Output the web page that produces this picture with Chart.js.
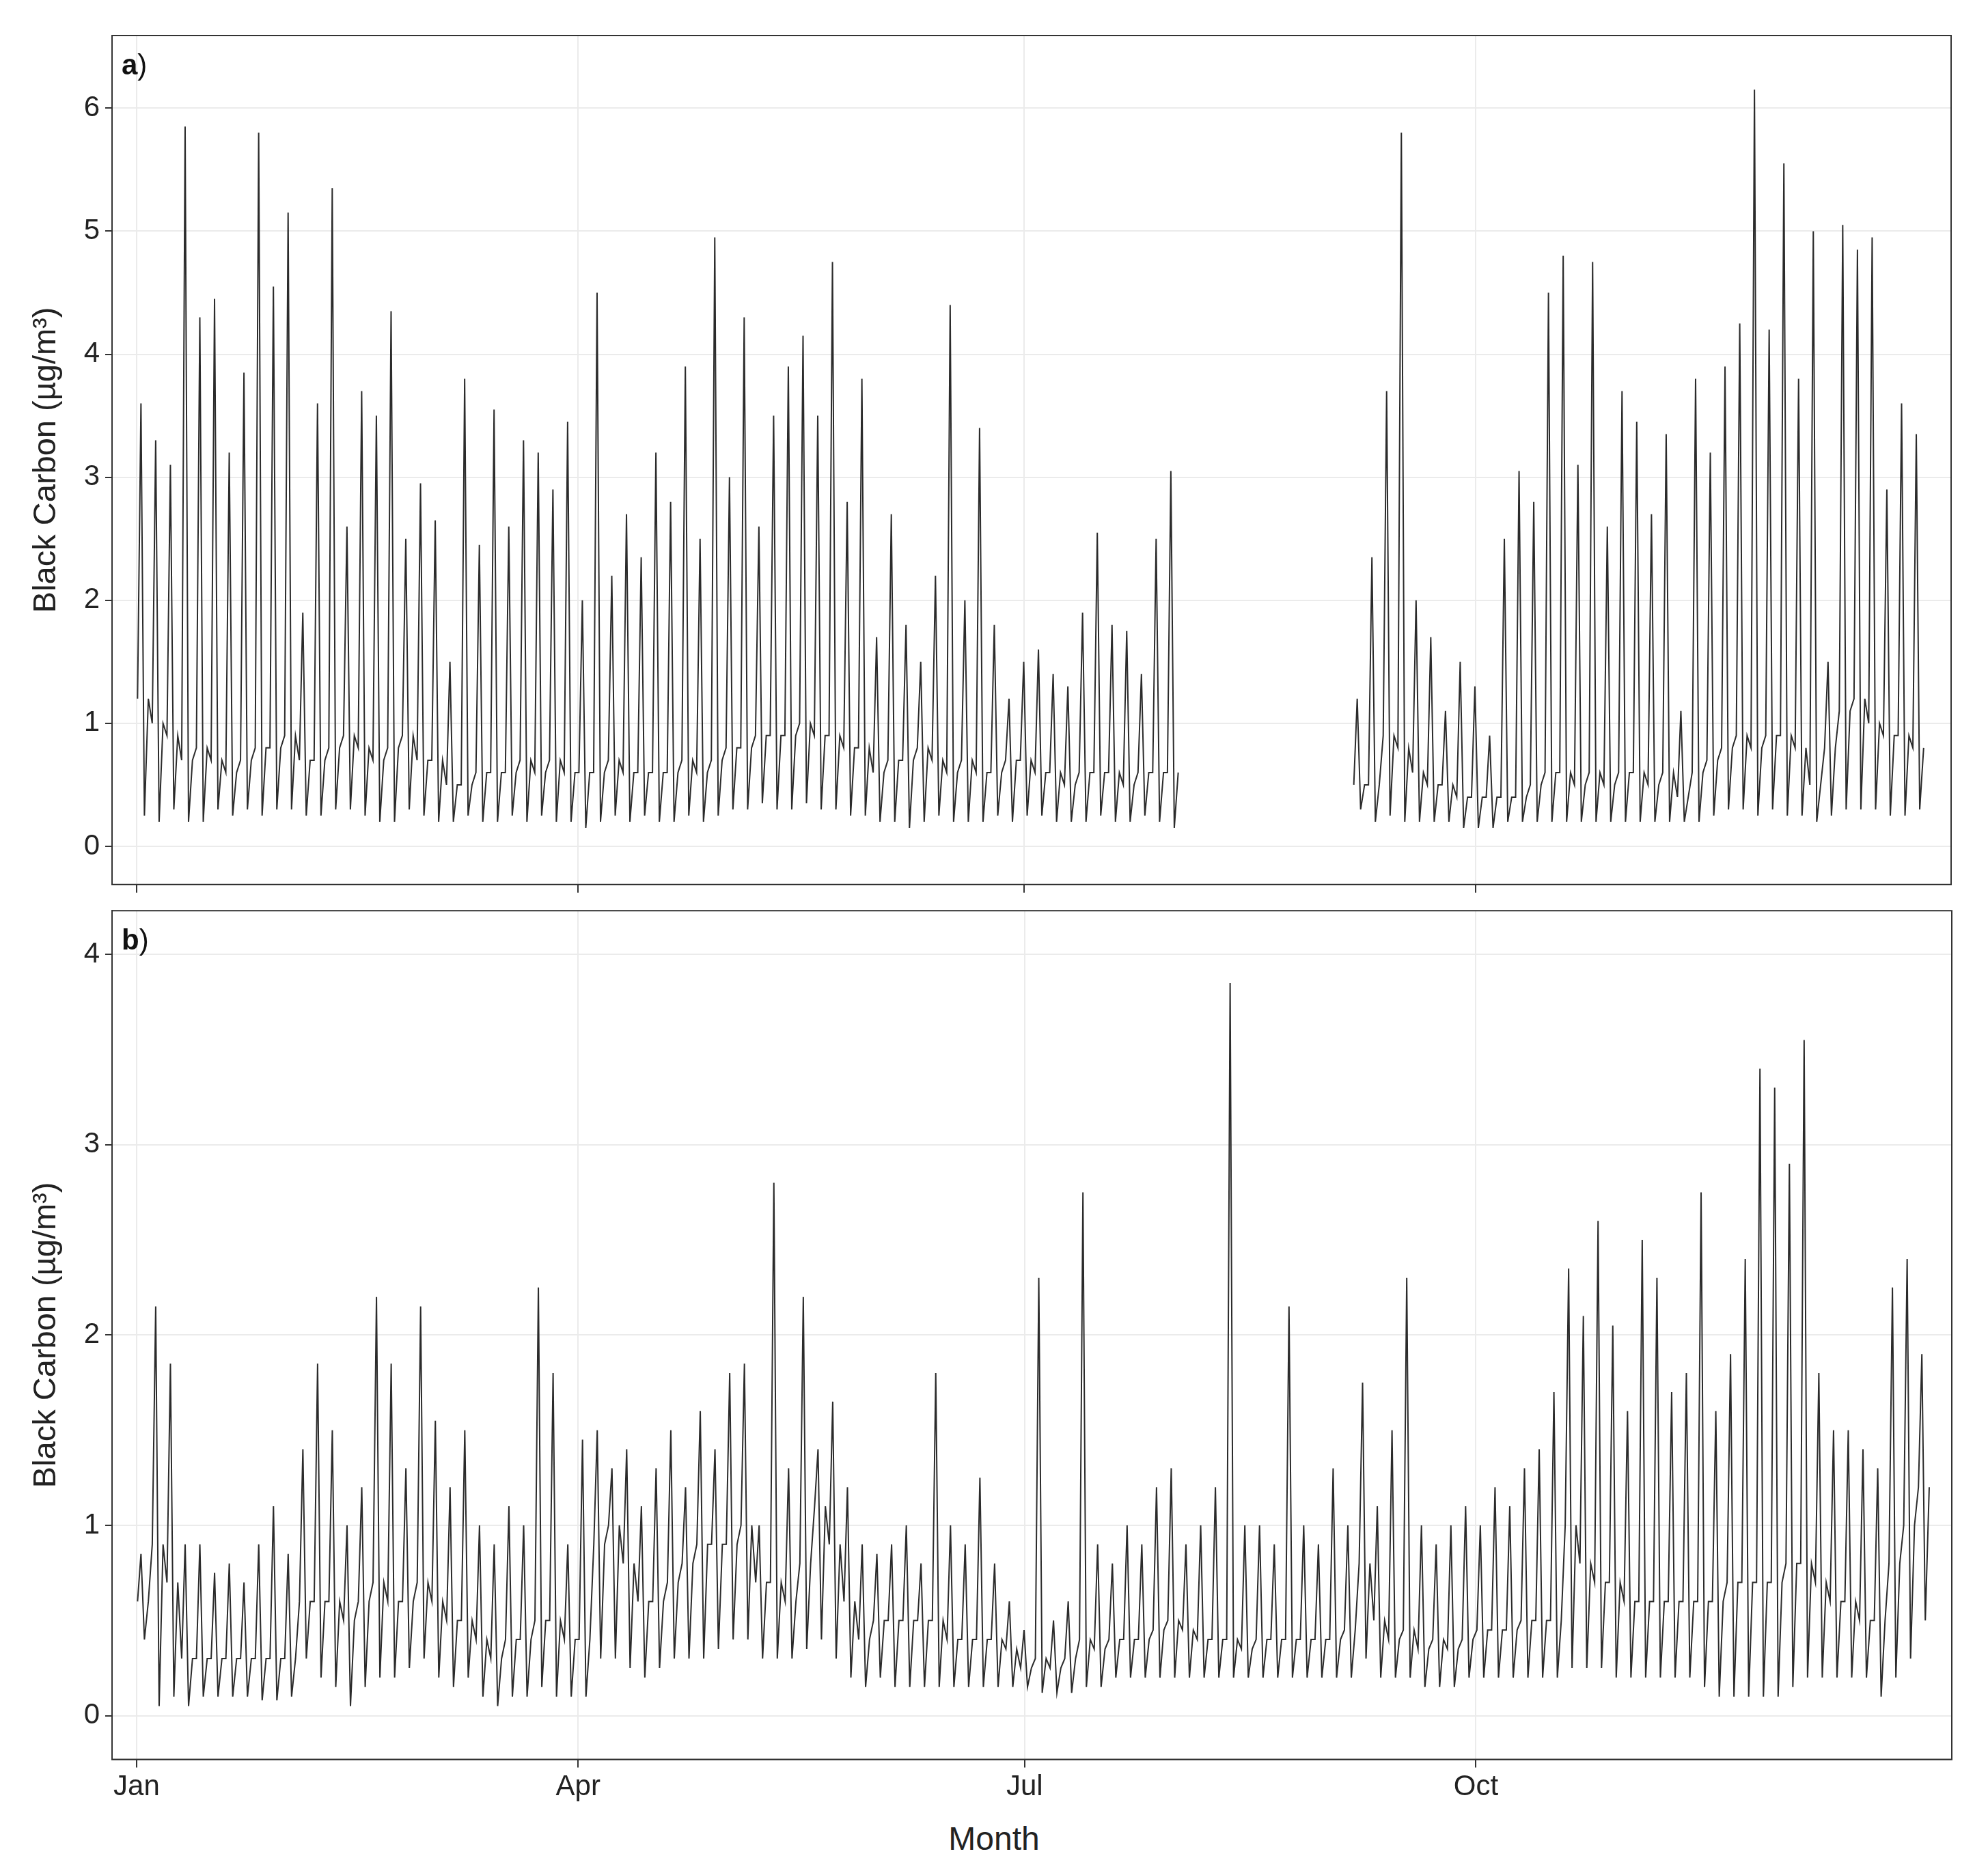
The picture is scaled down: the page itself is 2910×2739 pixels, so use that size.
<!DOCTYPE html>
<html><head><meta charset="utf-8">
<script src="https://cdn.jsdelivr.net/npm/chart.js@4"></script>
<style>
body{margin:0;background:#fff;width:2910px;height:2739px;position:relative;overflow:hidden;font-family:"Liberation Sans",Arial,sans-serif}
canvas{position:absolute;left:0}
#month{position:absolute;top:2664px;left:0;width:2910px;text-align:center;font-size:48px;color:#222}
</style></head><body>
<canvas id="ca" style="top:0"></canvas>
<canvas id="cb" style="top:1300px"></canvas>
<div id="month">Month</div>
<script>
// month ticks (day of year)
const monthDays = [0, 90, 181, 273];
const monthNames = ['Jan', 'Apr', 'Jul', 'Oct'];

// panel a: 3-day buckets, two periods with a gap between them
const startA1 = 0, startA2 = 248;
const peakA1 = [3.6,3.3,3.1,5.85,4.3,4.45,3.2,3.85,5.8,4.55,5.15,1.9,3.6,5.35,2.6,3.7,3.5,4.35,2.5,2.95,2.65,1.5,3.8,2.45,3.55,2.6,3.3,3.2,2.9,3.45,2.0,4.5,2.2,2.7,2.35,3.2,2.8,3.9,2.5,4.95,3.0,4.3,2.6,3.5,3.9,4.15,3.5,4.75,2.8,3.8,1.7,2.7,1.8,1.5,2.2,4.4,2.0,3.4,1.8,1.2,1.5,1.6,1.4,1.3,1.9,2.55,1.8,1.75,1.4,2.5,3.05];
const midA1 = [1.2,1.0,0.9,0.7,0.8,0.7,0.6,0.7,0.8,0.8,0.9,0.7,0.7,0.8,0.9,0.8,0.7,0.8,0.9,0.7,0.7,0.5,0.5,0.6,0.6,0.6,0.7,0.6,0.7,0.6,0.6,0.6,0.7,0.6,0.6,0.6,0.6,0.7,0.6,0.7,0.8,0.8,0.9,0.9,0.9,1.0,0.9,0.9,0.8,0.8,0.6,0.7,0.7,0.8,0.7,0.6,0.7,0.6,0.6,0.7,0.7,0.6,0.6,0.5,0.6,0.6,0.6,0.5,0.6,0.6,0.6];
const lowA1 = [0.25,0.2,0.3,0.2,0.2,0.3,0.25,0.3,0.25,0.3,0.3,0.25,0.25,0.3,0.3,0.25,0.2,0.2,0.3,0.25,0.2,0.2,0.25,0.2,0.2,0.25,0.2,0.25,0.2,0.2,0.15,0.2,0.25,0.2,0.25,0.2,0.2,0.25,0.2,0.25,0.3,0.3,0.35,0.3,0.3,0.35,0.3,0.3,0.25,0.25,0.2,0.2,0.15,0.2,0.25,0.2,0.2,0.2,0.25,0.2,0.25,0.25,0.2,0.2,0.2,0.25,0.2,0.2,0.25,0.2,0.15];
const peakA2 = [1.2,2.35,3.7,5.8,2.0,1.7,1.1,1.5,1.3,0.9,2.5,3.05,2.8,4.5,4.8,3.1,4.75,2.6,3.7,3.45,2.7,3.35,1.1,3.8,3.2,3.9,4.25,6.15,4.2,5.55,3.8,5.0,1.5,5.05,4.85,4.95,2.9,3.6,3.35];
const midA2 = [0.5,0.5,0.9,0.8,0.6,0.5,0.5,0.4,0.4,0.4,0.4,0.4,0.5,0.6,0.6,0.5,0.6,0.5,0.6,0.6,0.5,0.6,0.4,0.6,0.7,0.8,0.9,0.8,0.9,0.9,0.8,0.5,0.8,1.1,1.2,1.0,0.9,0.9,0.8];
const lowA2 = [0.3,0.2,0.25,0.2,0.2,0.2,0.2,0.15,0.15,0.15,0.2,0.2,0.2,0.2,0.2,0.2,0.2,0.2,0.2,0.2,0.2,0.2,0.2,0.2,0.25,0.3,0.3,0.25,0.3,0.25,0.25,0.2,0.25,0.3,0.3,0.3,0.25,0.25,0.3];

// panel b: 3-day buckets over the whole year
const peakB = [0.85,2.15,1.85,0.9,0.9,0.75,0.8,0.7,0.9,1.1,0.85,1.4,1.85,1.5,1.0,1.2,2.2,1.85,1.3,2.15,1.55,1.2,1.5,1.0,0.9,1.1,1.0,2.25,1.8,0.9,1.45,1.5,1.3,1.4,1.1,1.3,1.5,1.2,1.6,1.4,1.8,1.85,1.0,2.8,1.3,2.2,1.4,1.65,1.2,0.9,0.85,0.9,1.0,0.8,1.8,1.0,0.9,1.25,0.8,0.6,0.45,2.3,0.5,0.6,2.75,0.9,0.8,1.0,0.9,1.2,1.3,0.9,1.0,1.2,3.85,1.0,1.0,0.9,2.15,1.0,0.9,1.3,1.0,1.75,1.1,1.5,2.3,1.0,0.9,1.0,1.1,1.0,1.2,1.1,1.3,1.4,1.7,2.35,2.1,2.6,2.05,1.6,2.5,2.3,1.7,1.8,2.75,1.6,1.9,2.4,3.4,3.3,2.9,3.55,1.8,1.5,1.5,1.4,1.3,2.25,2.4,1.9];
const midB = [0.6,0.9,0.7,0.3,0.3,0.3,0.3,0.3,0.3,0.3,0.3,0.6,0.6,0.6,0.5,0.6,0.7,0.6,0.6,0.7,0.6,0.5,0.5,0.4,0.3,0.4,0.4,0.5,0.5,0.4,0.4,0.9,1.0,0.8,0.6,0.6,0.7,0.8,0.9,0.9,0.9,1.0,0.7,0.7,0.6,0.8,1.1,0.9,0.6,0.4,0.5,0.5,0.5,0.5,0.5,0.4,0.4,0.4,0.4,0.35,0.25,0.3,0.25,0.3,0.4,0.35,0.4,0.4,0.4,0.45,0.5,0.45,0.4,0.4,0.4,0.35,0.4,0.4,0.4,0.4,0.4,0.4,0.45,0.8,0.5,0.4,0.45,0.35,0.4,0.35,0.4,0.45,0.45,0.45,0.5,0.5,0.5,1.0,0.8,0.7,0.7,0.6,0.6,0.6,0.6,0.6,0.6,0.6,0.7,0.7,0.7,0.7,0.8,0.8,0.7,0.6,0.6,0.5,0.5,0.8,1.0,1.2];
const lowB = [0.4,0.05,0.1,0.05,0.1,0.1,0.1,0.1,0.08,0.08,0.1,0.3,0.2,0.15,0.05,0.15,0.2,0.2,0.25,0.3,0.2,0.15,0.2,0.1,0.05,0.1,0.1,0.15,0.1,0.1,0.1,0.3,0.3,0.25,0.2,0.25,0.3,0.3,0.3,0.35,0.4,0.4,0.3,0.3,0.3,0.35,0.4,0.3,0.2,0.15,0.2,0.15,0.15,0.15,0.15,0.15,0.15,0.15,0.15,0.15,0.15,0.12,0.12,0.12,0.15,0.15,0.2,0.2,0.2,0.2,0.2,0.2,0.2,0.2,0.2,0.2,0.2,0.2,0.2,0.2,0.2,0.2,0.2,0.3,0.2,0.2,0.2,0.15,0.15,0.15,0.2,0.2,0.2,0.2,0.2,0.2,0.2,0.25,0.25,0.25,0.2,0.2,0.2,0.2,0.2,0.2,0.15,0.1,0.1,0.1,0.1,0.1,0.15,0.2,0.2,0.2,0.2,0.2,0.1,0.2,0.3,0.5];

function buildPoints(start, peak, mid, low) {
    const n = Math.min(peak.length, mid.length, low.length);
    const pts = [];
    for (let i = 0; i < n; i++) {
        const d = start + i * 3;
        pts.push({x: d + 0.2, y: mid[i]}, {x: d + 0.9, y: peak[i]},
                 {x: d + 1.6, y: low[i]}, {x: d + 2.4, y: mid[i]});
    }
    return pts;
}

const ptsA = buildPoints(startA1, peakA1, midA1, lowA1)
    .concat([{x: 230, y: null}], buildPoints(startA2, peakA2, midA2, lowA2));
const ptsB = buildPoints(0, peakB, midB, lowB);

const tickFont = {family: '"Liberation Sans", Arial', size: 42};
const gridColor = '#ebebeb';

const panelLabel = {
    id: 'panelLabel',
    afterDraw(chart, args, opts) {
        const c = chart.ctx, a = chart.chartArea;
        c.save();
        c.fillStyle = '#111';
        c.textBaseline = 'top';
        c.font = 'bold 42px "Liberation Sans", Arial';
        c.fillText(opts.text, a.left + 14, a.top + 24);
        const w = c.measureText(opts.text).width;
        c.font = '42px "Liberation Sans", Arial';
        c.fillText(')', a.left + 14 + w, a.top + 24);
        c.strokeStyle = '#333';
        c.lineWidth = 2;
        c.strokeRect(a.left, a.top, a.right - a.left, a.bottom - a.top);
        c.restore();
    }
};

function makeChart(id, height, pts, ymin, ymax, yticks, label, showX, pad) {
    const cv = document.getElementById(id);
    cv.width = 2910; cv.height = height;
    cv.style.width = '2910px'; cv.style.height = height + 'px';
    return new Chart(cv, {
        type: 'line',
        data: {datasets: [{data: pts, borderColor: '#2b2b2b', borderWidth: 2, pointRadius: 0, spanGaps: false, tension: 0}]},
        options: {
            responsive: false, animation: false, devicePixelRatio: 1,
            layout: {padding: pad},
            plugins: {legend: {display: false}, tooltip: {enabled: false}, panelLabel: {text: label}},
            scales: {
                x: {
                    type: 'linear', min: -5, max: 370,
                    afterBuildTicks: ax => { ax.ticks = monthDays.map(v => ({value: v})); },
                    ticks: {display: showX, font: tickFont, color: '#222', padding: 4,
                            callback: v => monthNames[monthDays.indexOf(v)]},
                    grid: {color: gridColor, tickColor: '#333', tickLength: 12, lineWidth: 2},
                    border: {color: '#333', width: 2}
                },
                y: {
                    min: ymin, max: ymax,
                    afterBuildTicks: ax => { ax.ticks = yticks.map(v => ({value: v})); },
                    afterFit: ax => { ax.width = 124; },
                    ticks: {font: tickFont, color: '#222', padding: 8},
                    grid: {color: gridColor, tickColor: '#333', tickLength: 10, lineWidth: 2},
                    border: {color: '#333', width: 2},
                    title: {display: true, text: 'Black Carbon (µg/m³)', font: {family: '"Liberation Sans", Arial', size: 47}, color: '#222', padding: 0}
                }
            }
        },
        plugins: [panelLabel]
    });
}

makeChart('ca', 1328, ptsA, -0.31, 6.59, [0,1,2,3,4,5,6], 'a', false, {top: 52, right: 54, bottom: 0, left: 40});
makeChart('cb', 1346, ptsB, -0.23, 4.23, [0,1,2,3,4], 'b', true, {top: 11, right: 53, bottom: 0, left: 40});
</script>
</body></html>
